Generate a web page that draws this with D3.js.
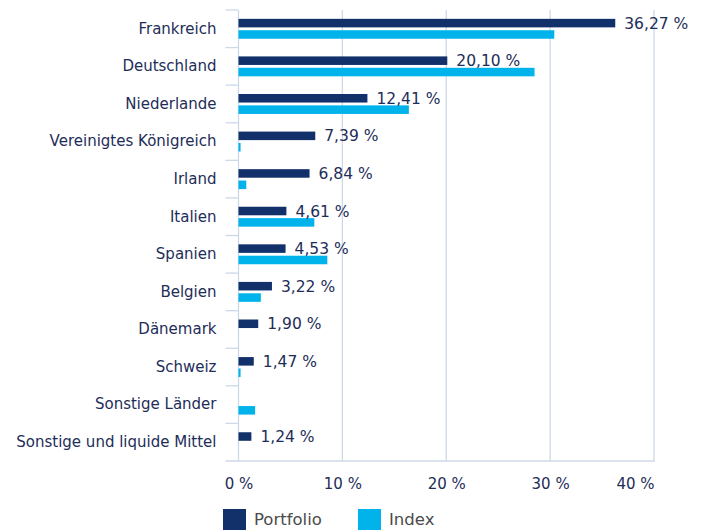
<!DOCTYPE html>
<html>
<head>
<meta charset="utf-8">
<script src="https://cdn.jsdelivr.net/npm/d3@7"></script>
<style>
    html, body { margin: 0; padding: 0; background: #fff; }
    svg { display: block; font-family: "DejaVu Sans", Verdana, sans-serif; }
</style>
</head>
<body>
<div id="chart"></div>
<script>
    var categories = ["Frankreich", "Deutschland", "Niederlande", "Vereinigtes Königreich", "Irland", "Italien",
        "Spanien", "Belgien", "Dänemark", "Schweiz", "Sonstige Länder", "Sonstige und liquide Mittel"];
    // null = no bar
    var portfolioValues = [36.27, 20.10, 12.41, 7.39, 6.84, 4.61, 4.53, 3.22, 1.90, 1.47, null, 1.24];
    var indexValues = [30.4, 28.5, 16.4, 0.2, 0.75, 7.3, 8.55, 2.15, null, 0.2, 1.6, null];
    var seriesNames = ["Portfolio", "Index"];
    var xTicks = [0, 10, 20, 30, 40];

    var colors = d3.scaleOrdinal()
        .domain(seriesNames)
        .range(["#12306a", "#00b4eb"]);

    var width = 704, height = 530;
    var margin = { top: 10, right: 50, bottom: 69, left: 238.5 };
    var gridColor = "#cdd8e8";
    var textColor = "#1e2d58";

    var svg = d3.select("#chart").append("svg")
        .attr("width", width)
        .attr("height", height);

    var x = d3.scaleLinear()
        .domain([0, 40])
        .range([margin.left, width - margin.right]);

    var y = d3.scaleBand()
        .domain(categories)
        .range([margin.top, height - margin.bottom])
        .paddingInner(0.47)
        .paddingOuter(0.235);

    var ySeries = d3.scaleBand()
        .domain(seriesNames)
        .range([0, y.bandwidth()])
        .paddingInner(0.25);

    var plotBottom = height - margin.bottom;
    var tickLeft = margin.left - 13;

    // vertical grid lines
    svg.append("g").selectAll("line")
        .data(xTicks)
        .enter().append("line")
        .attr("x1", function(d) { return x(d); })
        .attr("x2", function(d) { return x(d); })
        .attr("y1", margin.top)
        .attr("y2", plotBottom)
        .attr("stroke", gridColor)
        .attr("stroke-width", 1.3);

    // category boundary ticks on the left
    var boundaries = categories.map(function(c) {
        return y(c) - y.step() * y.paddingInner() / 2;
    });
    svg.append("g").selectAll("line")
        .data(boundaries)
        .enter().append("line")
        .attr("x1", tickLeft)
        .attr("x2", margin.left)
        .attr("y1", function(d) { return d; })
        .attr("y2", function(d) { return d; })
        .attr("stroke", gridColor)
        .attr("stroke-width", 1.3);

    // bottom axis line
    svg.append("line")
        .attr("x1", tickLeft)
        .attr("x2", x(40) + 1)
        .attr("y1", plotBottom)
        .attr("y2", plotBottom)
        .attr("stroke", gridColor)
        .attr("stroke-width", 1.5);

    // bars
    var rows = categories.map(function(c, i) {
        return [
            { cat: c, series: "Portfolio", value: portfolioValues[i] },
            { cat: c, series: "Index", value: indexValues[i] }
        ];
    });

    var groups = svg.append("g").selectAll("g")
        .data(rows)
        .enter().append("g")
        .attr("transform", function(d) { return "translate(0," + y(d[0].cat) + ")"; });

    groups.selectAll("rect")
        .data(function(d) { return d.filter(function(r) { return r.value !== null; }); })
        .enter().append("rect")
        .attr("x", x(0))
        .attr("y", function(d) { return ySeries(d.series); })
        .attr("width", function(d) { return x(d.value) - x(0); })
        .attr("height", ySeries.bandwidth())
        .attr("fill", function(d) { return colors(d.series); });

    // value labels for portfolio
    svg.append("g").selectAll("text")
        .data(categories.filter(function(c, i) { return portfolioValues[i] !== null; }))
        .enter().append("text")
        .attr("x", function(c) { return x(portfolioValues[categories.indexOf(c)]) + 9; })
        .attr("y", function(c) { return y(c) + ySeries("Portfolio") + ySeries.bandwidth() / 2; })
        .attr("dy", "0.36em")
        .attr("fill", textColor)
        .style("font-size", "15.5px")
        .text(function(c) {
            return d3.format(".2f")(portfolioValues[categories.indexOf(c)]).replace(".", ",") + " %";
        });

    // category labels
    var yAxis = d3.axisLeft(y)
        .tickSize(0)
        .tickPadding(22);
    var yAxisG = svg.append("g")
        .attr("transform", "translate(" + margin.left + ",0)")
        .call(yAxis);
    yAxisG.select(".domain").remove();
    yAxisG.selectAll("text")
        .attr("fill", textColor)
        .style("font-size", "15px")
        .style("font-family", "'DejaVu Sans', Verdana, sans-serif");

    // x tick labels
    var xAxis = d3.axisBottom(x)
        .tickValues(xTicks)
        .tickSize(0)
        .tickPadding(17)
        .tickFormat(function(d) { return d + " %"; });
    var xAxisG = svg.append("g")
        .attr("transform", "translate(0," + plotBottom + ")")
        .call(xAxis);
    xAxisG.select(".domain").remove();
    xAxisG.selectAll("text")
        .attr("fill", textColor)
        .style("font-size", "15px")
        .style("font-family", "'DejaVu Sans', Verdana, sans-serif");
    // last label kept inside the plot's right edge
    xAxisG.selectAll(".tick").filter(function(d) { return d === xTicks[xTicks.length - 1]; })
        .select("text")
        .attr("text-anchor", "end");

    // legend
    var legendX = [223, 358];
    var legend = svg.append("g").selectAll("g")
        .data(seriesNames)
        .enter().append("g")
        .attr("transform", function(d, i) { return "translate(" + legendX[i] + ",509)"; });
    legend.append("rect")
        .attr("width", 23)
        .attr("height", 23)
        .attr("fill", function(d) { return colors(d); });
    legend.append("text")
        .attr("x", 31)
        .attr("y", 16)
        .attr("fill", "#4a4a4a")
        .style("font-size", "16.5px")
        .text(function(d) { return d; });
</script>
</body>
</html>
